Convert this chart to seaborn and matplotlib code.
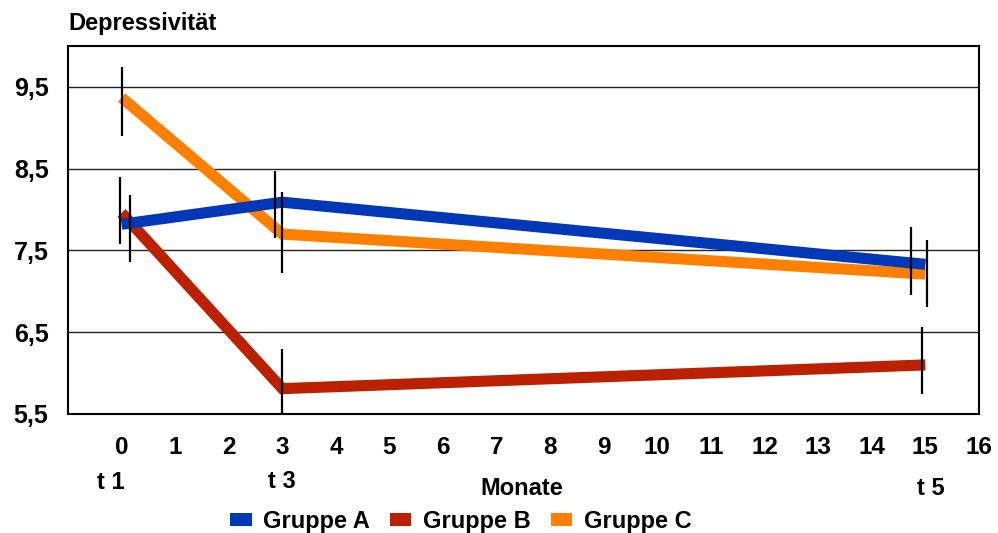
import numpy as np
import pandas as pd
import matplotlib
matplotlib.use("Agg")
import matplotlib.pyplot as plt
import matplotlib.transforms as mtransforms
from matplotlib.patches import Patch
import seaborn as sns

# Measurement times (months) and group means
months = [0, 3, 15]
groups = ["Gruppe A", "Gruppe B", "Gruppe C"]
gruppe_a = [7.82, 8.09, 7.33]
gruppe_b = [7.96, 5.81, 6.10]
gruppe_c = [9.37, 7.70, 7.21]

# Error bars: x position, lower and upper end per group
err_x_a = [0.15, 2.87, 14.73]
err_lo_a = [7.36, 7.65, 6.96]
err_hi_a = [8.18, 8.47, 7.79]
err_x_b = [-0.03, 3.0, 14.94]
err_lo_b = [7.58, 5.47, 5.74]
err_hi_b = [8.40, 6.29, 6.56]
err_x_c = [0.01, 3.0, 15.04]
err_lo_c = [8.90, 7.22, 6.81]
err_hi_c = [9.74, 8.22, 7.63]

# Axis ticks and labels
x_ticks = list(range(0, 17))
y_ticks = [5.5, 6.5, 7.5, 8.5, 9.5]
y_tick_labels = ["5,5", "6,5", "7,5", "8,5", "9,5"]
time_labels = ["t 1", "t 3", "t 5"]
time_label_x = [-0.2, 3.0, 15.1]

colors = {"Gruppe A": "#0038b8", "Gruppe B": "#bb2000", "Gruppe C": "#ff8000"}

df = pd.DataFrame({
    "Monat": months * 3,
    "Wert": gruppe_a + gruppe_b + gruppe_c,
    "Gruppe": [g for g in groups for _ in months],
})

sns.set_theme(style="white")
plt.rcParams["font.family"] = ["Liberation Sans", "DejaVu Sans"]
plt.rcParams["font.weight"] = "bold"
plt.rcParams["text.color"] = "black"
plt.rcParams["xtick.color"] = "black"
plt.rcParams["ytick.color"] = "black"

fig = plt.figure(figsize=(9.98, 5.33), dpi=100)
ax = fig.add_axes([0.0681, 0.2233, 0.9128, 0.6904])

# Group C underneath, Group A on top
sns.lineplot(data=df, x="Monat", y="Wert", hue="Gruppe", palette=colors,
             hue_order=groups[::-1], linewidth=8, ax=ax, legend=False,
             sort=False, solid_capstyle="butt", solid_joinstyle="miter",
             zorder=3)

for ex, lo, hi in [(err_x_a, err_lo_a, err_hi_a),
                   (err_x_b, err_lo_b, err_hi_b),
                   (err_x_c, err_lo_c, err_hi_c)]:
    ax.vlines(ex, lo, hi, colors="black", linewidth=1.6, zorder=4)

ax.set_xlim(-1, 16)
ax.set_ylim(5.5, 10.0)
ax.set_xticks(x_ticks)
ax.set_xticklabels([str(t) for t in x_ticks], fontsize=17.5, fontweight="bold")
ax.set_yticks(y_ticks)
ax.set_yticklabels(y_tick_labels, fontsize=18, fontweight="bold")
ax.tick_params(axis="both", length=0, colors="black")
ax.tick_params(axis="x", pad=16)
ax.tick_params(axis="y", pad=14)
ax.yaxis.grid(True, color="#222222", linewidth=1.0)
ax.xaxis.grid(False)
ax.set_axisbelow(True)
for s in ax.spines.values():
    s.set_color("black")
    s.set_linewidth(1.5)
ax.set_xlabel("")
ax.set_ylabel("")

# y-axis title above the plot
ax.text(0.0, 1.03, "Depressivität", transform=ax.transAxes, ha="left",
        va="bottom", fontsize=17, fontweight="bold", color="black")

# measurement-time markers below the tick labels
trans = mtransforms.blended_transform_factory(ax.transData, fig.transFigure)
for lx, lab, ly in zip(time_label_x, time_labels, [0.094, 0.096, 0.084]):
    ax.text(lx, ly, lab, transform=trans, ha="center", va="center",
            fontsize=17, fontweight="bold", color="black")

fig.text(0.523, 0.084, "Monate", ha="center", va="center", fontsize=17,
         fontweight="bold", color="black")

handles = [Patch(facecolor=colors[g], edgecolor="none") for g in groups]
fig.legend(handles, groups, loc="center", bbox_to_anchor=(0.462, 0.022),
           ncol=3, frameon=False, prop={"size": 17, "weight": "bold"},
           handlelength=0.9, handleheight=0.45, handletextpad=0.5,
           columnspacing=0.85)

fig.savefig("out.png", dpi=100, facecolor="white")
